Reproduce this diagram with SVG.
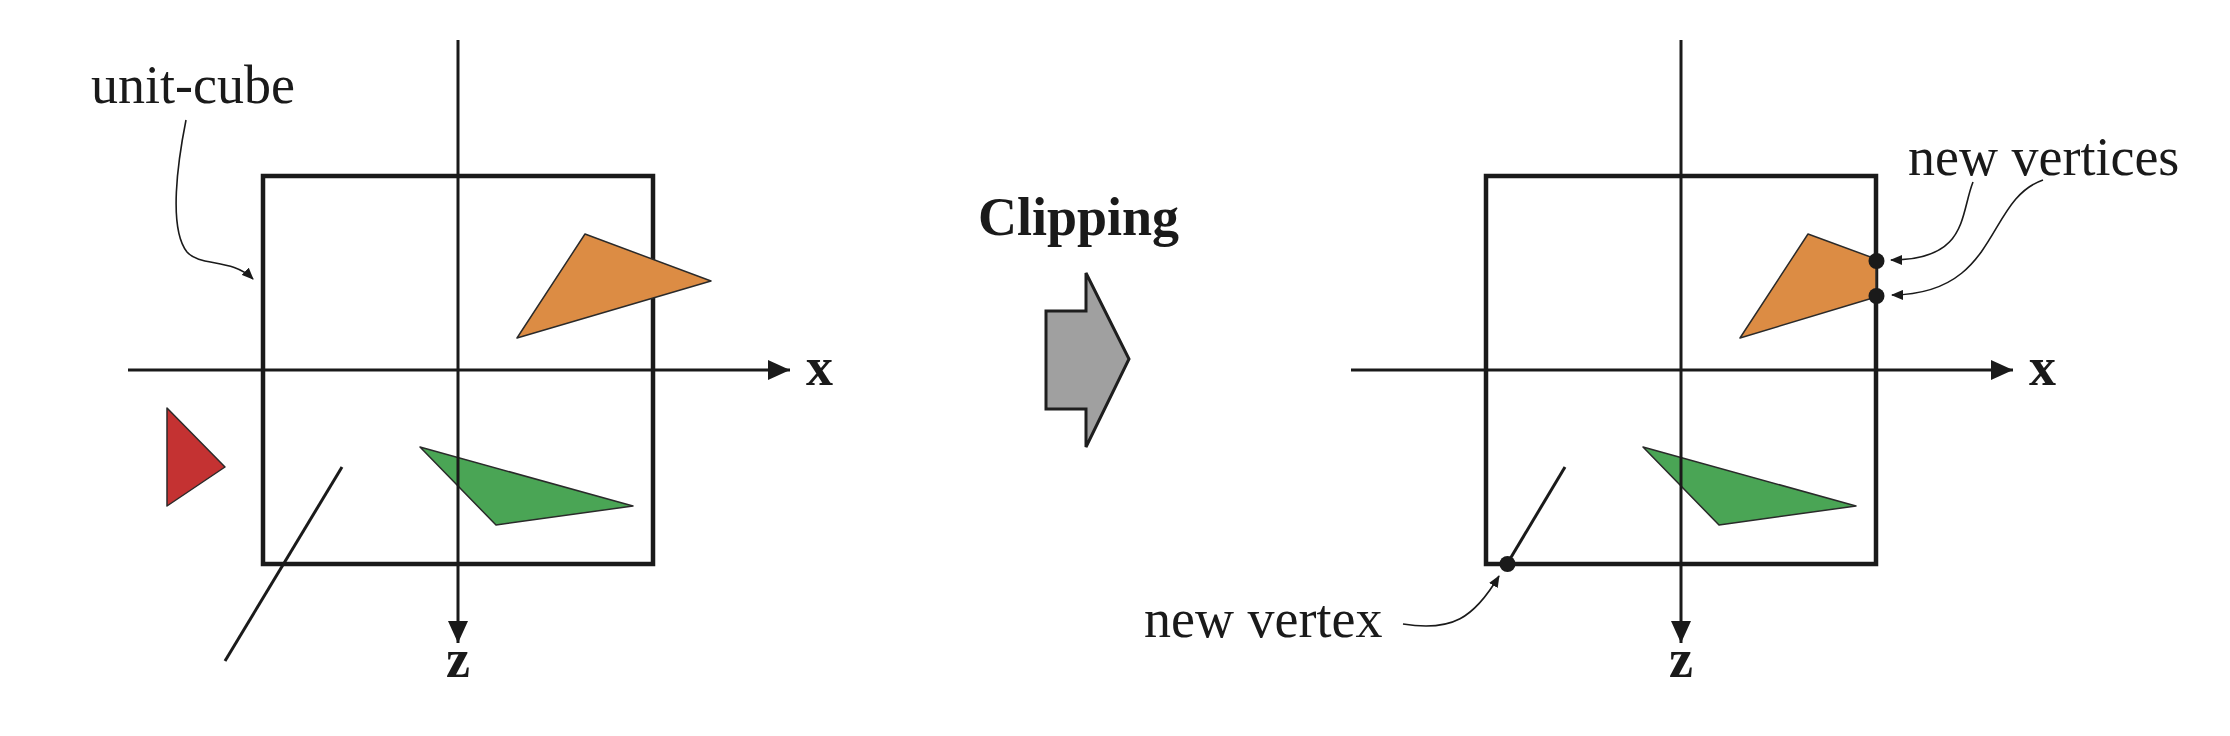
<svg xmlns="http://www.w3.org/2000/svg" width="2230" height="736" viewBox="0 0 2230 736">
<style>
.bg{fill:#ffffff}
.cube{fill:none;stroke:#1a1a1a;stroke-width:4.5}
.axis{fill:none;stroke:#1a1a1a;stroke-width:3}
.seg{fill:none;stroke:#1a1a1a;stroke-width:3}
.tri{stroke:#2a2a2a;stroke-width:1.5;stroke-linejoin:round}
.orange{fill:#dc8c44}
.red{fill:#c43232}
.green{fill:#4aa555}
.callout{fill:none;stroke:#1a1a1a;stroke-width:1.6}
.dot{fill:#1a1a1a}
.lbl{font-family:"Liberation Serif","Times New Roman",serif;font-size:54px;fill:#1a1a1a}
.ax{font-family:"Liberation Serif","Times New Roman",serif;font-size:54px;font-weight:bold;fill:#1a1a1a}
.bold{font-family:"Liberation Serif","Times New Roman",serif;font-size:54px;font-weight:bold;fill:#1a1a1a}
.big{fill:#a0a0a0;stroke:#1e1e1e;stroke-width:3;stroke-linejoin:miter}
</style>
<defs>
<marker id="axhead" markerUnits="userSpaceOnUse" markerWidth="22" markerHeight="20" refX="22" refY="10" orient="auto">
<path d="M0,0 L22,10 L0,20 Z" fill="#1a1a1a"/>
</marker>
<marker id="smallhead" markerUnits="userSpaceOnUse" markerWidth="12" markerHeight="10" refX="11" refY="5" orient="auto">
<path d="M0,0 L12,5 L0,10 Z" fill="#1a1a1a"/>
</marker>
</defs>
<rect class="bg" x="0" y="0" width="2230" height="736"/>

<!-- Left panel -->
<g id="left-cube"><rect class="cube" x="263" y="176" width="390" height="388"/></g>
<g id="left-orange"><polygon class="tri orange" points="585,234 711,281 517,338"/></g>
<g id="left-red"><polygon class="tri red" points="167,408 225,467 167,506"/></g>
<g id="left-green"><polygon class="tri green" points="420,447 633,506 496,525"/></g>
<g id="left-line"><line class="seg" x1="342" y1="467" x2="225" y2="661"/></g>
<g id="left-axes">
<line class="axis" x1="128" y1="370" x2="790" y2="370" marker-end="url(#axhead)"/>
<line class="axis" x1="458" y1="40" x2="458" y2="643" marker-end="url(#axhead)"/>
<text class="ax" x="806" y="385">x</text>
<text class="ax" x="458" y="677" text-anchor="middle">z</text>
</g>
<g id="label-unit-cube"><text class="lbl" x="91" y="103">unit-cube</text></g>

<!-- Middle -->
<g id="clipping">
<text class="bold" x="978" y="235">Clipping</text>
<polygon class="big" points="1046,311 1086,311 1086,273 1129,359 1086,447 1086,409 1046,409"/>
</g>

<!-- Right panel -->
<g id="right-cube"><rect class="cube" x="1486" y="176" width="390" height="388"/></g>
<g id="right-orange"><polygon class="tri orange" points="1808,234 1876,259 1876,297 1740,338"/></g>
<g id="right-green"><polygon class="tri green" points="1643,447 1856,506 1719,525"/></g>
<g id="right-line"><line class="seg" x1="1565" y1="467" x2="1507" y2="564"/></g>
<g id="right-axes">
<line class="axis" x1="1351" y1="370" x2="2013" y2="370" marker-end="url(#axhead)"/>
<line class="axis" x1="1681" y1="40" x2="1681" y2="643" marker-end="url(#axhead)"/>
<text class="ax" x="2029" y="385">x</text>
<text class="ax" x="1681" y="677" text-anchor="middle">z</text>
</g>
<g id="new-vertex-dots">
<circle class="dot" cx="1876.5" cy="261" r="8"/>
<circle class="dot" cx="1876.5" cy="296" r="8"/>
<circle class="dot" cx="1507.5" cy="564" r="8"/>
</g>
<g id="label-new-vertices"><text class="lbl" x="1908" y="175">new vertices</text></g>
<g id="label-new-vertex"><text class="lbl" x="1144" y="637">new vertex</text></g>

<!-- Connectors -->
<g id="connectors">
<path class="callout" d="M186,120 C178,160 168,228 187,252 C200,267 232,258 253,279" marker-end="url(#smallhead)"/>
<path class="callout" d="M1973,182 C1960,215 1968,260 1891,260" marker-end="url(#smallhead)"/>
<path class="callout" d="M2043,180 C1985,200 2000,294 1892,295" marker-end="url(#smallhead)"/>
<path class="callout" d="M1403,624 C1452,632 1474,618 1499,576" marker-end="url(#smallhead)"/>
</g>
</svg>
